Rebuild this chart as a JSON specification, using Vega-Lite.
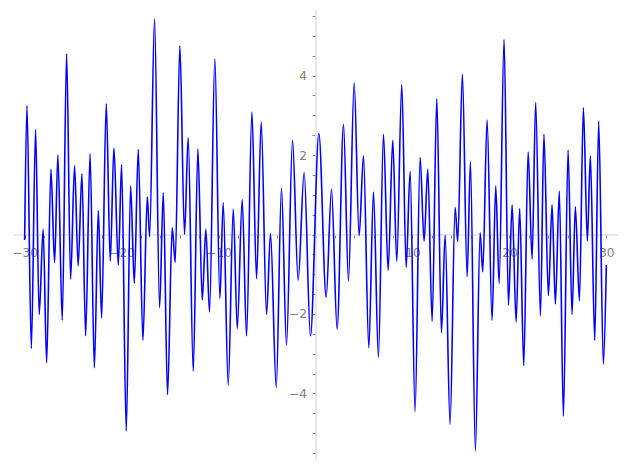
{
  "$schema": "https://vega.github.io/schema/vega-lite/v6.json",
  "width": 605,
  "height": 449,
  "autosize": "none",
  "padding": {"left": 13, "top": 10, "right": 9, "bottom": 11},
  "background": "white",
  "config": {"view": {"stroke": null}, "font": "DejaVu Sans"},
  "data": {"values": [
    {"x": -30, "y": -0.14}, {"x": -29.76, "y": 3.24}, {"x": -29.31, "y": -2.87}, {"x": -28.87, "y": 2.64},
    {"x": -28.5, "y": -2.01}, {"x": -28.09, "y": 0.13}, {"x": -27.73, "y": -3.22}, {"x": -27.29, "y": 1.64},
    {"x": -26.91, "y": -0.71}, {"x": -26.57, "y": 2.0}, {"x": -26.12, "y": -2.16}, {"x": -25.67, "y": 4.55},
    {"x": -25.26, "y": -1.12}, {"x": -24.85, "y": 1.73}, {"x": -24.48, "y": -0.79}, {"x": -24.09, "y": 1.53},
    {"x": -23.71, "y": -2.55}, {"x": -23.25, "y": 2.03}, {"x": -22.81, "y": -3.35}, {"x": -22.4, "y": 0.6},
    {"x": -22.06, "y": -2.1}, {"x": -21.58, "y": 3.29}, {"x": -21.17, "y": -0.67}, {"x": -20.79, "y": 2.18},
    {"x": -20.34, "y": -0.77}, {"x": -20.0, "y": 1.76}, {"x": -19.52, "y": -4.94}, {"x": -19.07, "y": 1.22},
    {"x": -18.69, "y": -1.23}, {"x": -18.28, "y": 2.14}, {"x": -17.8, "y": -2.66}, {"x": -17.35, "y": 0.95},
    {"x": -17.11, "y": -0.06}, {"x": -16.6, "y": 5.43}, {"x": -16.08, "y": -1.84}, {"x": -15.7, "y": 1.05},
    {"x": -15.26, "y": -4.03}, {"x": -14.78, "y": 0.17}, {"x": -14.47, "y": -0.7}, {"x": -13.99, "y": 4.75},
    {"x": -13.51, "y": 0.0}, {"x": -13.13, "y": 2.44}, {"x": -12.61, "y": -3.44}, {"x": -12.13, "y": 2.15},
    {"x": -11.68, "y": -1.65}, {"x": -11.31, "y": 0.13}, {"x": -10.93, "y": -1.95}, {"x": -10.38, "y": 4.43},
    {"x": -9.86, "y": -1.61}, {"x": -9.52, "y": 0.8}, {"x": -9.0, "y": -3.79}, {"x": -8.48, "y": 0.64},
    {"x": -8.07, "y": -2.36}, {"x": -7.56, "y": 0.88}, {"x": -7.11, "y": -2.55}, {"x": -6.56, "y": 3.08},
    {"x": -6.08, "y": -1.11}, {"x": -5.6, "y": 2.83}, {"x": -5.05, "y": -2.01}, {"x": -4.64, "y": 0.02},
    {"x": -4.05, "y": -3.85}, {"x": -3.51, "y": 1.16}, {"x": -2.99, "y": -2.78}, {"x": -2.37, "y": 2.37},
    {"x": -1.79, "y": -1.15}, {"x": -1.17, "y": 1.56}, {"x": -0.52, "y": -2.55}, {"x": 0.35, "y": 2.54},
    {"x": 1.1, "y": -1.58}, {"x": 1.65, "y": 1.14}, {"x": 2.23, "y": -2.38}, {"x": 2.89, "y": 2.77},
    {"x": 3.4, "y": -1.17}, {"x": 3.99, "y": 3.82}, {"x": 4.5, "y": -0.03}, {"x": 4.95, "y": 1.98},
    {"x": 5.5, "y": -2.85}, {"x": 5.98, "y": 1.07}, {"x": 6.49, "y": -3.09}, {"x": 7.01, "y": 2.52},
    {"x": 7.49, "y": -0.9}, {"x": 7.97, "y": 2.37}, {"x": 8.38, "y": -0.67}, {"x": 8.9, "y": 3.77},
    {"x": 9.35, "y": -0.83}, {"x": 9.76, "y": 1.59}, {"x": 10.27, "y": -4.46}, {"x": 10.79, "y": 1.94},
    {"x": 11.2, "y": -0.17}, {"x": 11.58, "y": 1.64}, {"x": 12.03, "y": -2.18}, {"x": 12.51, "y": 3.42},
    {"x": 12.99, "y": -2.47}, {"x": 13.37, "y": -0.02}, {"x": 13.88, "y": -4.78}, {"x": 14.4, "y": 0.68},
    {"x": 14.67, "y": -0.18}, {"x": 15.15, "y": 4.03}, {"x": 15.64, "y": -1.06}, {"x": 15.98, "y": 1.83},
    {"x": 16.49, "y": -5.45}, {"x": 16.98, "y": 0.04}, {"x": 17.25, "y": -0.94}, {"x": 17.7, "y": 2.88},
    {"x": 18.21, "y": -2.16}, {"x": 18.59, "y": 1.22}, {"x": 18.94, "y": -1.23}, {"x": 19.45, "y": 4.91},
    {"x": 19.9, "y": -1.78}, {"x": 20.28, "y": 0.75}, {"x": 20.69, "y": -2.2}, {"x": 21.06, "y": 0.65},
    {"x": 21.48, "y": -3.3}, {"x": 21.93, "y": 2.08}, {"x": 22.34, "y": -0.62}, {"x": 22.71, "y": 3.32},
    {"x": 23.2, "y": -2.05}, {"x": 23.56, "y": 2.52}, {"x": 24.02, "y": -1.54}, {"x": 24.4, "y": 0.75},
    {"x": 24.74, "y": -1.75}, {"x": 25.15, "y": 1.09}, {"x": 25.57, "y": -4.57}, {"x": 26.05, "y": 2.12},
    {"x": 26.46, "y": -2.01}, {"x": 26.8, "y": 0.7}, {"x": 27.22, "y": -1.67}, {"x": 27.63, "y": 3.19},
    {"x": 28.04, "y": -0.16}, {"x": 28.35, "y": 1.98}, {"x": 28.8, "y": -2.66}, {"x": 29.21, "y": 2.85},
    {"x": 29.69, "y": -3.26}, {"x": 30, "y": -0.77}
  ]},
  "mark": {"type": "line", "color": "#0000ff", "strokeWidth": 1.6, "interpolate": "monotone"},
  "encoding": {
    "x": {
      "field": "x", "type": "quantitative",
      "scale": {"domain": [-31.2, 31.2], "nice": false, "zero": false},
      "axis": {
        "orient": "bottom", "offset": -224.5, "title": null,
        "values": [-30,-28,-26,-24,-22,-20,-18,-16,-14,-12,-10,-8,-6,-4,-2,0,2,4,6,8,10,12,14,16,18,20,22,24,26,28,30],
        "labelExpr": "(datum.value % 10 === 0 && datum.value !== 0) ? format(datum.value, 'd') : ''",
        "labelOverlap": false, "labelFlush": false,
        "domainColor": "#e2e2e2", "domainWidth": 1.6,
        "tickColor": "#888888", "tickSize": 3.5, "tickWidth": 1,
        "labelColor": "#808080", "labelFontSize": 12.2, "labelFont": "DejaVu Sans", "labelPadding": 8.5,
        "grid": false
      }
    },
    "y": {
      "field": "y", "type": "quantitative",
      "scale": {"domain": [-5.65, 5.65], "nice": false, "zero": false},
      "axis": {
        "orient": "left", "offset": -302.5, "title": null,
        "values": [-5.5,-5,-4.5,-4,-3.5,-3,-2.5,-2,-1.5,-1,-0.5,0,0.5,1,1.5,2,2.5,3,3.5,4,4.5,5,5.5],
        "labelExpr": "(datum.value % 2 === 0 && datum.value !== 0) ? format(datum.value, 'd') : ''",
        "labelOverlap": false, "labelFlush": false,
        "domainColor": "#e2e2e2", "domainWidth": 1.6,
        "tickColor": "#888888", "tickSize": 3.5, "tickWidth": 1,
        "labelColor": "#808080", "labelFontSize": 12.2, "labelFont": "DejaVu Sans", "labelPadding": 5.5,
        "grid": false
      }
    }
  }
}
